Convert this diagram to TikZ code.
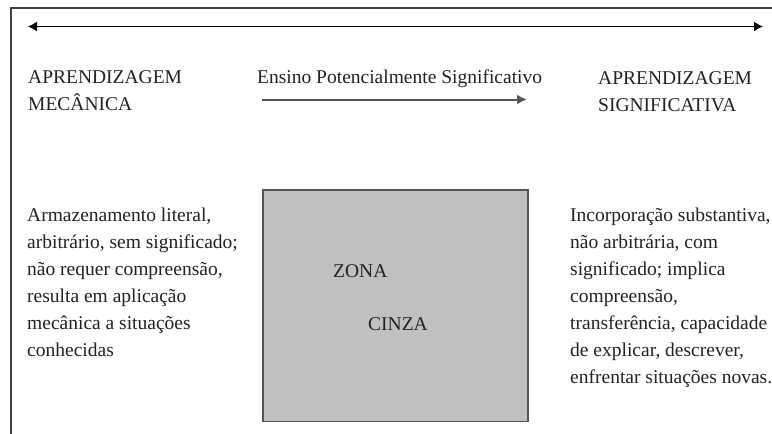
\documentclass[tikz,border=0pt]{standalone}
\usepackage{fontspec}
\setmainfont{Liberation Serif}
\usetikzlibrary{arrows.meta}
\definecolor{txt}{HTML}{222222}
\definecolor{boxfill}{HTML}{C0C0C0}
\definecolor{boxline}{HTML}{555555}
\definecolor{midarrow}{HTML}{555555}
\tikzset{
  lbl/.style={inner sep=0pt, anchor=base west, align=left, text=txt,
    font=\fontsize{19.5pt}{27pt}\selectfont},
  frameline/.style={draw=black!75, line width=1.4pt},
  bigarrow/.style={line width=1.3pt, {Latex[length=9pt,width=10pt]}-{Latex[length=9pt,width=10pt]}},
  smallarrow/.style={draw=midarrow, line width=2pt, -{Latex[length=10pt,width=10pt]}},
  grey/.style={draw=boxline, fill=boxfill, line width=1.6pt}
}
\begin{document}
\begin{tikzpicture}[x=1pt,y=-1pt]
\useasboundingbox (0,0) rectangle (772,434);
% frame
\coordinate (fbl) at (11,434);
\coordinate (ftl) at (11,8);
\coordinate (ftr) at (772,8);
\draw[frameline] (fbl) -- (ftl) -- (ftr);
% top double arrow
\coordinate (tl) at (28,26.5);
\coordinate (tr) at (763,26.5);
\draw[bigarrow] (tl) -- (tr);
% headings (base anchor = baseline of last line)
\node[lbl] (mec) at (28,110) {APRENDIZAGEM\\MECÂNICA};
\node[lbl] (ens) at (257,83) {Ensino Potencialmente Significativo};
\node[lbl] (sig) at (598,111) {APRENDIZAGEM\\SIGNIFICATIVA};
% middle arrow
\coordinate (ml) at (262,99.5);
\coordinate (mr) at (527,99.5);
\draw[smallarrow] (ml) -- (mr);
% grey zone
\draw[grey] (263,190) rectangle (528,421.5);
\node[lbl] (zona) at (333,277) {ZONA};
\node[lbl] (cinza) at (368,330) {CINZA};
% left text
\node[lbl] (left) at (27,356) {Armazenamento literal,\\arbitrário, sem significado;\\não requer compreensão,\\resulta em aplicação\\mecânica a situações\\conhecidas};
% right text
\node[lbl] (right) at (570,383) {Incorporação substantiva,\\não arbitrária, com\\significado; implica\\compreensão,\\transferência, capacidade\\de explicar, descrever,\\enfrentar situações novas.};
\end{tikzpicture}
\end{document}
